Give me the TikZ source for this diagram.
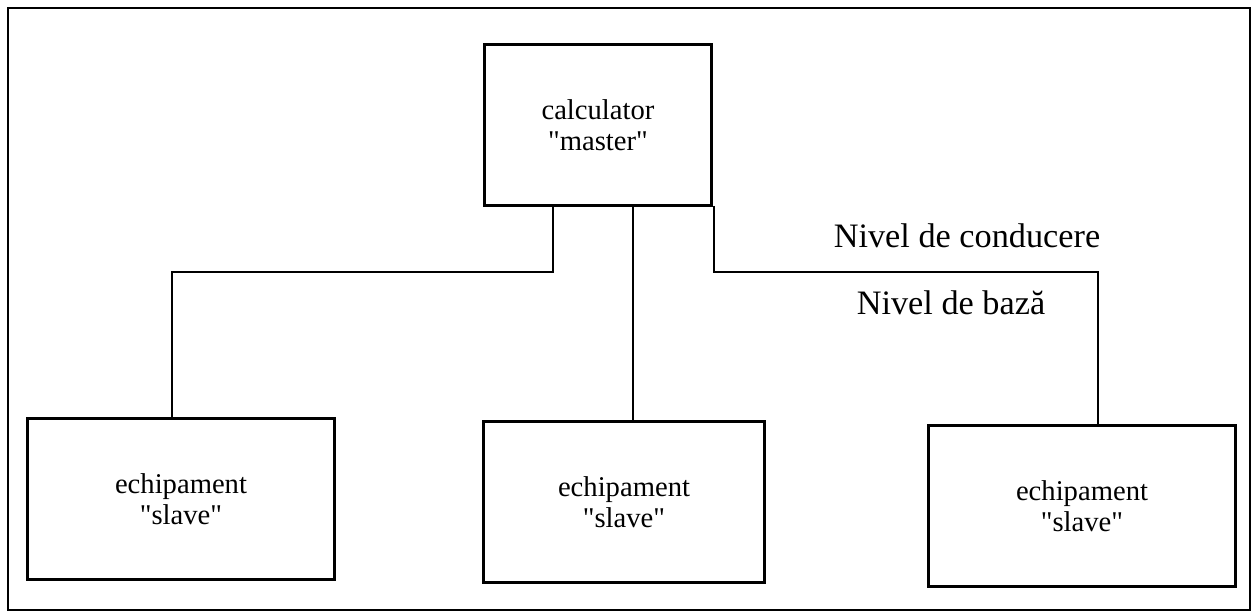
\documentclass[tikz,border=0pt]{standalone}
\usepackage{fontspec}
\setmainfont{Liberation Serif}
\usepackage{tikz}
\usetikzlibrary{positioning}

\newcommand{\ghil}[1]{\textquotedbl#1\textquotedbl}

\begin{document}
\begin{tikzpicture}[x=0.02cm,y=-0.02cm,
    bloc/.style={draw, line width=1.7pt, inner sep=0pt, outer sep=0pt,
        align=center, font=\fontsize{16.3}{17.5}\selectfont,
        minimum height=3.24cm},
    legatura/.style={line width=1.6pt},
    nivel/.style={font=\fontsize{19.5}{22}\selectfont}]
    \useasboundingbox (0,0) rectangle (1256,614);

    % Cadru exterior
    \draw[line width=1.1pt] (8,8) rectangle (1250,610);

    % Calculatorul master
    \node[bloc, minimum width=4.56cm] (master) at (598,125) {calculator\\\ghil{master}};

    % Echipamentele slave
    \node[bloc, minimum width=6.16cm] (sst) at (181,499) {echipament\\\ghil{slave}};
    \node[bloc, minimum width=5.62cm] (smij) at (624,502) {echipament\\\ghil{slave}};
    \node[bloc, minimum width=6.16cm] (sdr) at (1082,506) {echipament\\\ghil{slave}};

    % Puncte de cotire
    \coordinate (cst) at (553,272);
    \coordinate (cstx) at (172,272);
    \coordinate (cmij) at (633,272);
    \coordinate (cdr) at (714,272);
    \coordinate (cdrx) at (1098,272);

    % Legaturi
    \draw[legatura] (cst |- master.south) -- (cst) -- (cstx) -- (cstx |- sst.north);
    \draw[legatura] (cmij |- master.south) -- (cmij |- smij.north);
    \draw[legatura] (cdr |- master.south) -- (cdr) -- (cdrx) -- (cdrx |- sdr.north);

    % Niveluri
    \node[nivel] (cond) at (967,236) {Nivel de conducere};
    \node[nivel] (baza) at (951,303) {Nivel de bază};
\end{tikzpicture}
\end{document}
